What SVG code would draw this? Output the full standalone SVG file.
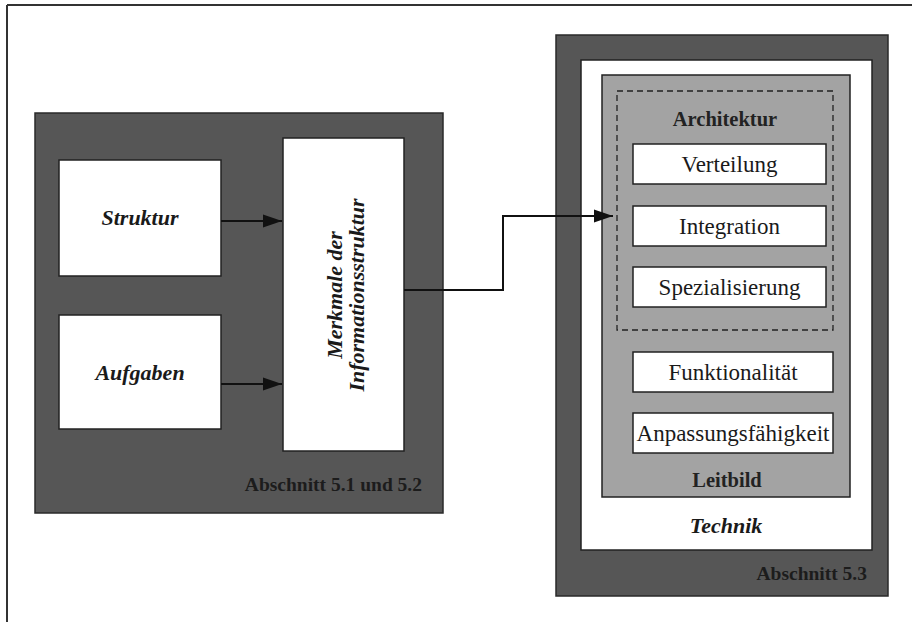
<svg xmlns="http://www.w3.org/2000/svg" width="912" height="622" viewBox="0 0 912 622">
<style>
  .t { font-family: "Liberation Serif", "Times New Roman", serif; fill: #1a1a1a; text-anchor: middle; }
  .bi { font-weight: bold; font-style: italic; font-size: 22px; }
  .r { font-size: 23px; }
  .b { font-weight: bold; font-size: 20.5px; fill: #222; }
  .lab { font-weight: bold; font-size: 19.5px; text-anchor: end; fill: #1c1c1c; }
  .wbox { fill: #ffffff; stroke: #222; stroke-width: 1.5; }
  .dark { fill: #565656; stroke: #2a2a2a; stroke-width: 1.5; }
  .conn { fill: none; stroke: #111; stroke-width: 2; }
</style>
<defs>
  <marker id="ah" markerWidth="20" markerHeight="14" refX="19" refY="7" orient="auto" markerUnits="userSpaceOnUse">
    <path d="M0,0.5 L19,7 L0,13.5 Z" fill="#111"/>
  </marker>
</defs>
<rect width="912" height="622" fill="#ffffff"/>
<g id="frame">
  <line x1="7" y1="5" x2="912" y2="5" stroke="#333" stroke-width="2"/>
  <line x1="7" y1="5" x2="7" y2="622" stroke="#333" stroke-width="2"/>
</g>
<g id="abschnitt-5-1-5-2">
  <rect class="dark" x="35" y="113" width="408" height="400"/>
  <text class="t lab" x="422" y="491">Abschnitt  5.1 und 5.2</text>
</g>
<g id="struktur">
  <rect class="wbox" x="59" y="160" width="162" height="116"/>
  <text class="t bi" x="140" y="225">Struktur</text>
</g>
<g id="aufgaben">
  <rect class="wbox" x="59" y="315" width="162" height="114"/>
  <text class="t bi" x="140" y="380">Aufgaben</text>
</g>
<g id="merkmale">
  <rect class="wbox" x="283" y="138" width="121" height="313"/>
  <g transform="translate(344,295) rotate(-90)">
    <text class="t bi" x="0" y="-2">Merkmale der</text>
    <text class="t bi" x="0" y="20">Informationsstruktur</text>
  </g>
</g>
<g id="abschnitt-5-3">
  <rect class="dark" x="556" y="35" width="332" height="561"/>
  <text class="t lab" x="867" y="580">Abschnitt 5.3</text>
</g>
<g id="technik">
  <rect class="wbox" x="581" y="60" width="291" height="490"/>
  <text class="t bi" x="726" y="533">Technik</text>
</g>
<g id="leitbild">
  <rect x="602" y="75" width="248" height="422" fill="#a3a3a3" stroke="#222" stroke-width="1.5"/>
  <text class="t b" x="727" y="487">Leitbild</text>
</g>
<g id="architektur">
  <rect x="617" y="91" width="216" height="239" fill="none" stroke="#222" stroke-width="1.3" stroke-dasharray="6,4"/>
  <text class="t b" x="725" y="126">Architektur</text>
</g>
<g id="verteilung">
  <rect class="wbox" x="633" y="144" width="193" height="40"/>
  <text class="t r" x="729.5" y="172">Verteilung</text>
</g>
<g id="integration">
  <rect class="wbox" x="633" y="206" width="193" height="40"/>
  <text class="t r" x="729.5" y="234">Integration</text>
</g>
<g id="spezialisierung">
  <rect class="wbox" x="633" y="267" width="193" height="40"/>
  <text class="t r" x="729.5" y="295">Spezialisierung</text>
</g>
<g id="funktionalitaet">
  <rect class="wbox" x="633" y="352" width="200" height="40"/>
  <text class="t r" x="733" y="380">Funktionalität</text>
</g>
<g id="anpassungsfaehigkeit">
  <rect class="wbox" x="633" y="413" width="200" height="40"/>
  <text class="t r" x="733" y="441">Anpassungsfähigkeit</text>
</g>
<g id="connectors">
  <line class="conn" x1="221" y1="221" x2="282" y2="221" marker-end="url(#ah)"/>
  <line class="conn" x1="221" y1="384" x2="282" y2="384" marker-end="url(#ah)"/>
  <polyline class="conn" points="404,290 503,290 503,216 613,216" marker-end="url(#ah)"/>
</g>
</svg>
